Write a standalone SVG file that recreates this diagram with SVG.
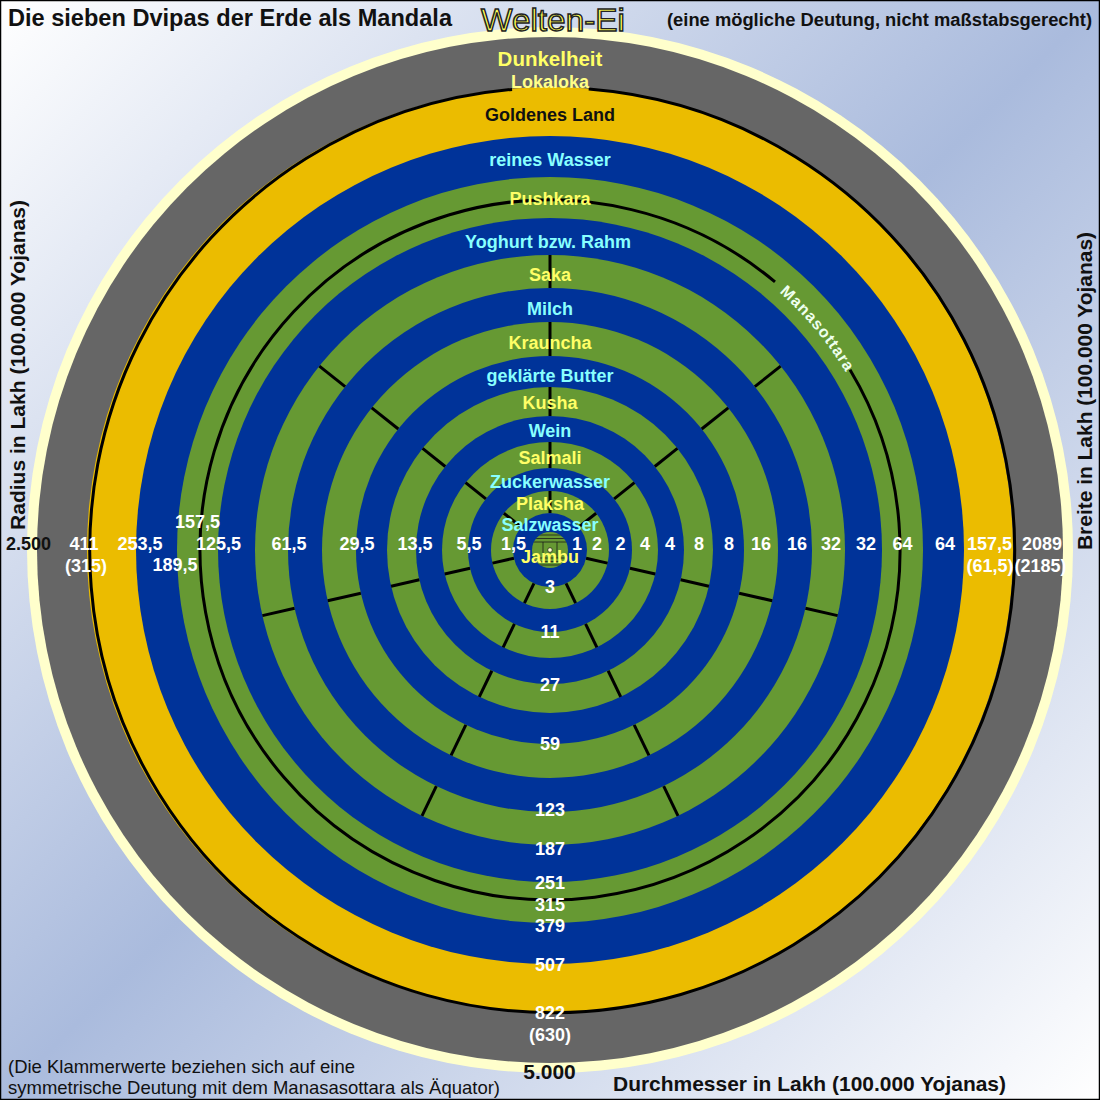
<svg xmlns="http://www.w3.org/2000/svg" width="1100" height="1100" viewBox="0 0 1100 1100">
<defs>
<linearGradient id="bg" x1="0" y1="0" x2="1" y2="1">
<stop offset="0" stop-color="#ffffff"/>
<stop offset="0.5" stop-color="#aabbdd"/>
<stop offset="1" stop-color="#ffffff"/>
</linearGradient>
<clipPath id="jclip"><circle cx="550" cy="550" r="18"/></clipPath>
<path id="manaPath" d="M 722.5 251.2 A 345 345 0 0 1 874.2 432"/>
</defs>
<style>
text{font-family:"Liberation Sans",Arial,Helvetica,sans-serif;font-weight:bold}
.n{fill:#ffffff;font-size:18px;text-anchor:middle}
.d{fill:#ffff66;font-size:18px;text-anchor:middle}
.o{fill:#88ffff;font-size:18px;text-anchor:middle}
.k{fill:#111111}
.g{fill:#669933}
.b{fill:#003399}
.tk{stroke:#000000;stroke-width:3}
.line{fill:none;stroke:#000000;stroke-width:3}
.jl{stroke:#1a1a1a;stroke-width:0.8;fill:none}
</style>
<rect x="0.5" y="0.5" width="1099" height="1099" fill="url(#bg)" stroke="#000" stroke-width="1.5"/>

<g id="rings">
<circle id="egg" cx="550" cy="550" r="523" fill="#ffffcc"/>
<circle id="dunkelheit" cx="550" cy="550" r="513" fill="#666666"/>
<circle id="goldenes-land" cx="550" cy="550" r="463" fill="#ebbc00"/>
<circle id="reines-wasser" class="b" cx="550" cy="550" r="414"/>
<circle id="pushkara" class="g" cx="550" cy="550" r="373"/>
<circle id="yoghurt" class="b" cx="550" cy="550" r="332"/>
<circle id="saka" class="g" cx="550" cy="550" r="295"/>
<circle id="milch" class="b" cx="550" cy="550" r="262"/>
<circle id="krauncha" class="g" cx="550" cy="550" r="228"/>
<circle id="butter" class="b" cx="550" cy="550" r="194"/>
<circle id="kusha" class="g" cx="550" cy="550" r="163"/>
<circle id="wein" class="b" cx="550" cy="550" r="134"/>
<circle id="salmali" class="g" cx="550" cy="550" r="108"/>
<circle id="zuckerwasser" class="b" cx="550" cy="550" r="82"/>
<circle id="plaksha" class="g" cx="550" cy="550" r="59"/>
<circle id="salzwasser" class="b" cx="550" cy="550" r="37"/>
<circle id="jambu" class="g" cx="550" cy="550" r="18"/>
</g>

<g id="connectors">
<path id="lokaloka-line" class="line" d="M 588.7 89.1 A 462.5 462.5 0 1 1 512.1 89.4"/>
<path id="manasottara-line" class="line" d="M 850 369.7 A 350 350 0 1 1 775 281.9"/>
<g id="ticks-saka">
<line id="ts" class="tk" x1="550" y1="288" x2="550" y2="255"/>
<use href="#ts" transform="rotate(51.4286 550 550)"/>
<use href="#ts" transform="rotate(102.857 550 550)"/>
<use href="#ts" transform="rotate(154.286 550 550)"/>
<use href="#ts" transform="rotate(205.714 550 550)"/>
<use href="#ts" transform="rotate(257.143 550 550)"/>
<use href="#ts" transform="rotate(308.571 550 550)"/>
</g>
<g id="ticks-krauncha">
<line id="tkr" class="tk" x1="550" y1="356" x2="550" y2="322"/>
<use href="#tkr" transform="rotate(51.4286 550 550)"/>
<use href="#tkr" transform="rotate(102.857 550 550)"/>
<use href="#tkr" transform="rotate(154.286 550 550)"/>
<use href="#tkr" transform="rotate(205.714 550 550)"/>
<use href="#tkr" transform="rotate(257.143 550 550)"/>
<use href="#tkr" transform="rotate(308.571 550 550)"/>
</g>
<g id="ticks-kusha">
<line id="tku" class="tk" x1="550" y1="416" x2="550" y2="387"/>
<use href="#tku" transform="rotate(51.4286 550 550)"/>
<use href="#tku" transform="rotate(102.857 550 550)"/>
<use href="#tku" transform="rotate(154.286 550 550)"/>
<use href="#tku" transform="rotate(205.714 550 550)"/>
<use href="#tku" transform="rotate(257.143 550 550)"/>
<use href="#tku" transform="rotate(308.571 550 550)"/>
</g>
<g id="ticks-salmali">
<line id="tsa" class="tk" x1="550" y1="468" x2="550" y2="442"/>
<use href="#tsa" transform="rotate(51.4286 550 550)"/>
<use href="#tsa" transform="rotate(102.857 550 550)"/>
<use href="#tsa" transform="rotate(154.286 550 550)"/>
<use href="#tsa" transform="rotate(205.714 550 550)"/>
<use href="#tsa" transform="rotate(257.143 550 550)"/>
<use href="#tsa" transform="rotate(308.571 550 550)"/>
</g>
<g id="ticks-plaksha">
<line id="tpl" class="tk" x1="550" y1="513" x2="550" y2="491"/>
<use href="#tpl" transform="rotate(51.4286 550 550)"/>
<use href="#tpl" transform="rotate(102.857 550 550)"/>
<use href="#tpl" transform="rotate(154.286 550 550)"/>
<use href="#tpl" transform="rotate(205.714 550 550)"/>
<use href="#tpl" transform="rotate(257.143 550 550)"/>
<use href="#tpl" transform="rotate(308.571 550 550)"/>
</g>
</g>

<g id="jambu-detail" clip-path="url(#jclip)">
<line class="jl" x1="530" y1="535" x2="570" y2="535"/>
<line class="jl" x1="530" y1="538.5" x2="570" y2="538.5"/>
<line class="jl" x1="530" y1="542" x2="570" y2="542"/>
<line class="jl" x1="530" y1="558" x2="570" y2="558"/>
<line class="jl" x1="530" y1="561.5" x2="570" y2="561.5"/>
<line class="jl" x1="530" y1="565" x2="570" y2="565"/>
<line class="jl" x1="543" y1="542" x2="543" y2="558"/>
<line class="jl" x1="557" y1="542" x2="557" y2="558"/>
<circle cx="550" cy="550" r="2.3" fill="#ffffcc" stroke="#1a1a1a" stroke-width="0.7"/>
</g>

<g id="ring-labels">
<text x="550" y="66" style="fill:#ffff66;font-size:20.5px;text-anchor:middle">Dunkelheit</text>
<text x="550" y="88" style="fill:#ffff88;font-size:18px;text-anchor:middle">Lokaloka</text>
<text x="550" y="121" class="k" style="font-size:18px;text-anchor:middle">Goldenes Land</text>
<text x="550" y="166" class="o">reines Wasser</text>
<text x="550" y="204.5" class="d">Pushkara</text>
<text x="548" y="247.5" class="o">Yoghurt bzw. Rahm</text>
<text x="550" y="280.5" class="d">Saka</text>
<text x="550" y="314.5" class="o">Milch</text>
<text x="550" y="348.5" class="d">Krauncha</text>
<text x="550" y="381.5" class="o">geklärte Butter</text>
<text x="550" y="408.5" class="d">Kusha</text>
<text x="550" y="437" class="o">Wein</text>
<text x="550" y="464" class="d">Salmali</text>
<text x="550" y="487.5" class="o">Zuckerwasser</text>
<text x="550" y="510" class="d">Plaksha</text>
<text x="550" y="531" class="o">Salzwasser</text>
<text x="550" y="563" class="d">Jambu</text>
<text style="fill:#eeffee;font-size:16px;letter-spacing:1px;text-anchor:middle"><textPath href="#manaPath" startOffset="51%">Manasottara</textPath></text>
</g>

<g id="radius-labels">
<text x="28.5" y="550" class="k" style="font-size:18px;text-anchor:middle">2.500</text>
<text x="84" y="550" class="n">411</text>
<text x="86" y="572" class="n">(315)</text>
<text x="140" y="550" class="n">253,5</text>
<text x="197.5" y="528" class="n">157,5</text>
<text x="175" y="571" class="n">189,5</text>
<text x="218.5" y="550" class="n">125,5</text>
<text x="289" y="550" class="n">61,5</text>
<text x="357" y="550" class="n">29,5</text>
<text x="415" y="550" class="n">13,5</text>
<text x="469" y="550" class="n">5,5</text>
<text x="513.5" y="550" class="n">1,5</text>
</g>

<g id="width-labels">
<text x="577" y="550" class="n">1</text>
<text x="597" y="550" class="n">2</text>
<text x="620.5" y="550" class="n">2</text>
<text x="645" y="550" class="n">4</text>
<text x="670" y="550" class="n">4</text>
<text x="699" y="550" class="n">8</text>
<text x="729" y="550" class="n">8</text>
<text x="761" y="550" class="n">16</text>
<text x="797" y="550" class="n">16</text>
<text x="831" y="550" class="n">32</text>
<text x="866" y="550" class="n">32</text>
<text x="902.5" y="550" class="n">64</text>
<text x="945" y="550" class="n">64</text>
<text x="989.5" y="550" class="n">157,5</text>
<text x="1042" y="550" class="n">2089</text>
<text x="990" y="572" class="n">(61,5)</text>
<text x="1040.5" y="572" class="n">(2185)</text>
</g>

<g id="diameter-labels">
<text x="550" y="593" class="n">3</text>
<text x="550" y="638" class="n">11</text>
<text x="550" y="691" class="n">27</text>
<text x="550" y="749.5" class="n">59</text>
<text x="550" y="815.5" class="n">123</text>
<text x="550" y="854.5" class="n">187</text>
<text x="550" y="888.5" class="n">251</text>
<text x="550" y="910.5" class="n">315</text>
<text x="550" y="931.5" class="n">379</text>
<text x="550" y="970.5" class="n">507</text>
<text x="550" y="1018.5" class="n">822</text>
<text x="550" y="1041" class="n">(630)</text>
<text x="549.5" y="1079" class="k" style="font-size:21px;text-anchor:middle">5.000</text>
</g>

<g id="titles">
<text x="8" y="26" class="k" style="font-size:23px" textLength="444" lengthAdjust="spacingAndGlyphs">Die sieben Dvipas der Erde als Mandala</text>
<text x="553" y="31" style="font-weight:normal;font-size:32px;fill:#ffff55;stroke:#222222;stroke-width:1.4;text-anchor:middle" textLength="144" lengthAdjust="spacingAndGlyphs">Welten-Ei</text>
<text x="667" y="26" class="k" style="font-size:17.5px" textLength="425" lengthAdjust="spacingAndGlyphs">(eine mögliche Deutung, nicht maßstabsgerecht)</text>
<text class="k" style="font-size:21px;text-anchor:middle" transform="translate(25 365) rotate(-90)" textLength="330" lengthAdjust="spacingAndGlyphs">Radius in Lakh (100.000 Yojanas)</text>
<text class="k" style="font-size:21px;text-anchor:middle" transform="translate(1092 391) rotate(-90)" textLength="318" lengthAdjust="spacingAndGlyphs">Breite in Lakh (100.000 Yojanas)</text>
<text x="613" y="1091" class="k" style="font-size:21px" textLength="393" lengthAdjust="spacingAndGlyphs">Durchmesser in Lakh (100.000 Yojanas)</text>
<text x="8" y="1073" class="k" style="font-size:18.5px;font-weight:normal" textLength="347" lengthAdjust="spacingAndGlyphs">(Die Klammerwerte beziehen sich auf eine</text>
<text x="8" y="1094" class="k" style="font-size:18.5px;font-weight:normal" textLength="492" lengthAdjust="spacingAndGlyphs">symmetrische Deutung mit dem Manasasottara als Äquator)</text>
</g>
</svg>
